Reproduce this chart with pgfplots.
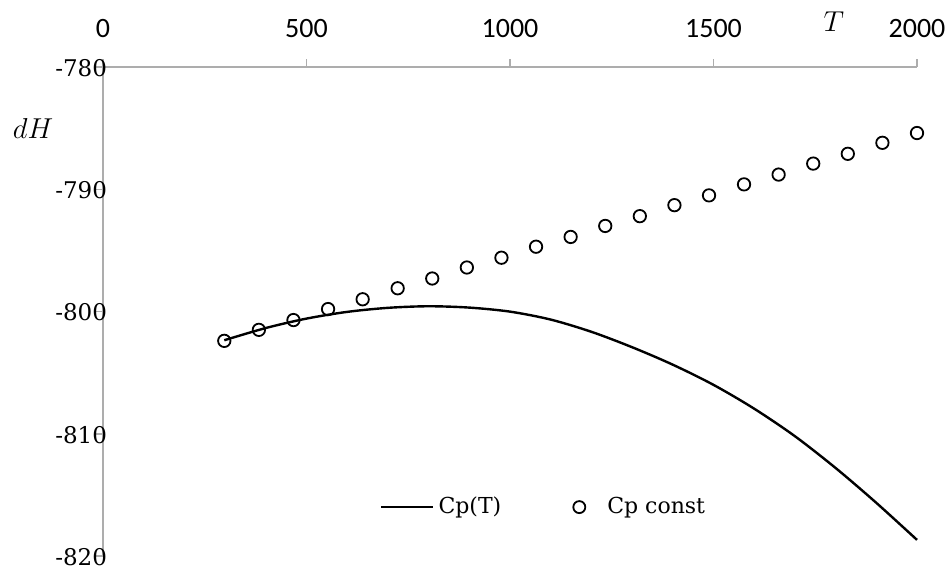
\documentclass[border=0pt]{standalone}
\usepackage{fontspec}
\setmainfont{DejaVu Serif}
\newfontfamily\carlito{Carlito}
\usepackage{pgfplots}
\usepackage{pgfplotstable}
\pgfplotsset{compat=1.18}
\pgfplotstableread{
T dH
298 -802.35
400 -801.35
500 -800.58
600 -800.03
700 -799.70
800 -799.57
900 -799.68
1000 -800.01
1100 -800.66
1200 -801.66
1300 -802.92
1400 -804.35
1500 -806.00
1600 -807.95
1700 -810.20
1800 -812.80
1900 -815.65
2000 -818.68
}\cpT
\pgfplotstableread{
T dH
298 -802.4
383 -801.5
468 -800.7
553 -799.8
638 -799.0
724 -798.1
809 -797.3
894 -796.4
979 -795.6
1064 -794.7
1149 -793.9
1234 -793.0
1319 -792.2
1404 -791.3
1489 -790.5
1575 -789.6
1660 -788.8
1745 -787.9
1830 -787.1
1915 -786.2
2000 -785.4
}\cpconst
\begin{document}
\begin{tikzpicture}
\useasboundingbox (-51.5pt,-9.5pt) rectangle (422.5pt,278pt);
\begin{axis}[
  at={(0,0)}, anchor=south west,
  scale only axis, width=407pt, height=244.5pt,
  xmin=0, xmax=2000, ymin=-820, ymax=-780,
  axis x line=top, axis y line=left,
  axis line style={-, draw=black!32, line width=0.75pt},
  xtick={0,500,1000,1500,2000}, xticklabels={0,500,1000,1500,2000},
  ytick={-820,-810,-800,-790,-780}, yticklabels={-820,-810,-800,-790,-780},
  minor tick num=0,
  tick align=outside, major tick length=4pt,
  tick style={draw=black!32, line width=0.75pt},
  xticklabel style={font=\carlito\fontsize{14}{16}\selectfont, text=black, yshift=7pt},
  yticklabel style={font=\fontsize{11.5}{13}\selectfont, text=black, xshift=9.5pt, yshift=-0.5pt},
  clip=false,
  legend columns=2,
  legend cell align=left,
  legend style={draw=none, fill=none, at={(0.34,0.1)}, anchor=west,
    font=\fontsize{11}{13}\selectfont, inner sep=0pt,
    /tikz/every even column/.append style={column sep=25pt}},
]
\addplot[black, line width=1.2pt, smooth, no markers,
  legend image code/.code={\draw[black, line width=1.2pt] (0pt,0pt) -- (26pt,0pt);}]
  table[x=T, y=dH] {\cpT};
\addlegendentry{Cp(T)}
\addplot[black, only marks, mark=o, mark size=3.1pt, line width=0.9pt,
  legend image code/.code={\path[draw=none] (-12pt,0pt) (12pt,0pt); \draw[black, line width=0.9pt, mark=o, mark size=3pt] plot coordinates {(0pt,0pt)};}]
  table[x=T, y=dH] {\cpconst};
\addlegendentry{Cp const}
\node at (rel axis cs:0.898,1) [yshift=22.5pt] {\fontsize{15}{18}\selectfont $T$};
\node at (rel axis cs:0,0.875) [xshift=-35pt] {\fontsize{14}{17}\selectfont $dH$};
\end{axis}
\end{tikzpicture}
\end{document}
